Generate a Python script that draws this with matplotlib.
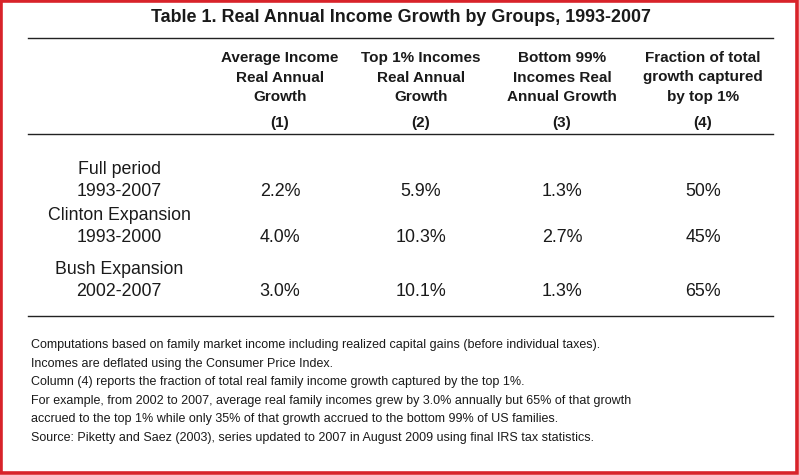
import matplotlib
matplotlib.use("Agg")
import matplotlib.pyplot as plt
from matplotlib.patches import Rectangle

plt.rcParams['font.family'] = ['Liberation Sans', 'DejaVu Sans']

title = "Table 1. Real Annual Income Growth by Groups, 1993-2007"
col_headers = [
    "Average Income\nReal Annual\nGrowth",
    "Top 1% Incomes\nReal Annual\nGrowth",
    "Bottom 99%\nIncomes Real\nAnnual Growth",
    "Fraction of total\ngrowth captured\nby top 1%",
]
col_numbers = ["(1)", "(2)", "(3)", "(4)"]
row_names = ["Full period", "Clinton Expansion", "Bush Expansion"]
row_periods = ["1993-2007", "1993-2000", "2002-2007"]
avg_growth = ["2.2%", "4.0%", "3.0%"]
top1_growth = ["5.9%", "10.3%", "10.1%"]
bottom99_growth = ["1.3%", "2.7%", "1.3%"]
top1_share = ["50%", "45%", "65%"]
notes = [
    "Computations based on family market income including realized capital gains (before individual taxes).",
    "Incomes are deflated using the Consumer Price Index.",
    "Column (4) reports the fraction of total real family income growth captured by the top 1%.",
    "For example, from 2002 to 2007, average real family incomes grew by 3.0% annually but 65% of that growth",
    "accrued to the top 1% while only 35% of that growth accrued to the bottom 99% of US families.",
    "Source: Piketty and Saez (2003), series updated to 2007 in August 2009 using final IRS tax statistics.",
]

W, H = 799, 475
fig = plt.figure(figsize=(W / 100, H / 100), dpi=100)
ax = fig.add_axes([0, 0, 1, 1])
ax.set_xlim(0, W)
ax.set_ylim(H, 0)
ax.axis('off')

txt = '#1a1a1a'
# border
ax.add_patch(Rectangle((1.2, 1.2), W - 2.9, H - 3.0, fill=False, ec='#d8232a', lw=2.6))

ax.text(401, 18, title, ha='center', va='center', fontsize=12.9, fontweight='bold', color=txt)
ax.plot([28, 773], [37.5, 37.5], color='#222222', lw=1.0)

col_x = [280, 421, 562, 703]
for x, h, n in zip(col_x, col_headers, col_numbers):
    for i, line in enumerate(h.split("\n")):
        ax.text(x, 58 + i * 19.5, line, ha='center', va='center', fontsize=11,
                fontweight='bold', color=txt)
    ax.text(x, 123, n, ha='center', va='center', fontsize=11, fontweight='bold', color=txt)
ax.plot([28, 773], [133.5, 133.5], color='#222222', lw=1.0)

row_y = [191, 238, 291]
cols = [avg_growth, top1_growth, bottom99_growth, top1_share]
for r, (name, per, y) in enumerate(zip(row_names, row_periods, row_y)):
    ax.text(119, y - 22, name, ha='center', va='center', fontsize=12.8, color=txt)
    ax.text(119, y, per, ha='center', va='center', fontsize=12.8, color=txt)
    for x, c in zip(col_x, cols):
        ax.text(x, y, c[r], ha='center', va='center', fontsize=12.9, color=txt)
ax.plot([28, 773], [315.5, 315.5], color='#222222', lw=1.0)

for i, line in enumerate(notes):
    ax.text(31, 345 + i * 18.6, line, ha='left', va='center', fontsize=9, color=txt)

fig.savefig("out.png", dpi=100, facecolor='white')
